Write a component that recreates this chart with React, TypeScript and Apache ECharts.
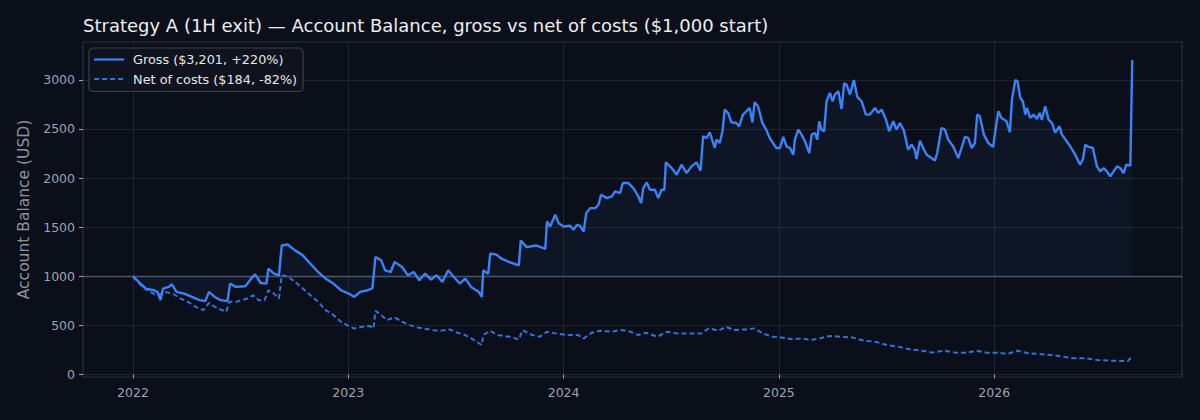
import { useEffect, useRef } from 'react'
import * as echarts from 'echarts'

const START_BALANCE = 1000

// x = decimal year, y = balance in USD
const grossPoints: [number, number][] = [
  [2022.0, 1000], [2022.043, 909], [2022.06, 875], [2022.096, 858], [2022.114, 841],
  [2022.128, 757], [2022.14, 875], [2022.167, 892], [2022.181, 919], [2022.202, 841],
  [2022.238, 824], [2022.274, 790], [2022.309, 757], [2022.336, 747], [2022.353, 841],
  [2022.38, 790], [2022.407, 757], [2022.439, 747], [2022.451, 926], [2022.478, 892],
  [2022.522, 899], [2022.549, 976], [2022.567, 1020], [2022.593, 932], [2022.62, 926],
  [2022.629, 1078], [2022.655, 1027], [2022.678, 1010], [2022.691, 1314], [2022.718, 1324],
  [2022.753, 1264], [2022.789, 1213], [2022.824, 1128], [2022.86, 1044], [2022.895, 976],
  [2022.931, 926], [2022.966, 858], [2023.002, 824], [2023.028, 790], [2023.055, 841],
  [2023.091, 858], [2023.112, 880], [2023.126, 1196], [2023.153, 1162], [2023.171, 1061],
  [2023.197, 1044], [2023.215, 1145], [2023.25, 1095], [2023.277, 1010], [2023.304, 1044],
  [2023.33, 959], [2023.357, 1027], [2023.384, 966], [2023.41, 1010], [2023.437, 943],
  [2023.464, 1061], [2023.49, 993], [2023.517, 926], [2023.544, 976], [2023.57, 892],
  [2023.606, 841], [2023.62, 790], [2023.627, 1061], [2023.65, 1027], [2023.659, 1230],
  [2023.686, 1223], [2023.712, 1179], [2023.748, 1145], [2023.792, 1111], [2023.801, 1365],
  [2023.828, 1297], [2023.872, 1314], [2023.915, 1280], [2023.923, 1558], [2023.938, 1507],
  [2023.961, 1626], [2023.977, 1541], [2024.0, 1507], [2024.031, 1514], [2024.046, 1473],
  [2024.062, 1524], [2024.077, 1514], [2024.093, 1456], [2024.105, 1643], [2024.123, 1694],
  [2024.147, 1694], [2024.162, 1728], [2024.174, 1830], [2024.201, 1796], [2024.224, 1813],
  [2024.239, 1864], [2024.262, 1847], [2024.275, 1949], [2024.301, 1949], [2024.324, 1898],
  [2024.347, 1813], [2024.36, 1745], [2024.37, 1898], [2024.386, 1956], [2024.401, 1881],
  [2024.424, 1881], [2024.44, 1796], [2024.455, 1881], [2024.468, 1881], [2024.475, 2160],
  [2024.502, 2102], [2024.525, 2034], [2024.548, 2136], [2024.571, 2051], [2024.594, 2119],
  [2024.617, 2160], [2024.636, 2075], [2024.648, 2425], [2024.664, 2408], [2024.679, 2466],
  [2024.702, 2306], [2024.71, 2391], [2024.725, 2357], [2024.738, 2476], [2024.748, 2697],
  [2024.764, 2663], [2024.779, 2568], [2024.802, 2561], [2024.815, 2527], [2024.833, 2646],
  [2024.849, 2680], [2024.864, 2714], [2024.877, 2568], [2024.887, 2772], [2024.903, 2731],
  [2024.923, 2561], [2024.941, 2493], [2024.957, 2408], [2024.988, 2306], [2025.005, 2306],
  [2025.02, 2419], [2025.036, 2320], [2025.051, 2306], [2025.067, 2238], [2025.074, 2391],
  [2025.09, 2493], [2025.105, 2442], [2025.121, 2374], [2025.141, 2255], [2025.152, 2442],
  [2025.167, 2459], [2025.178, 2391], [2025.187, 2578], [2025.198, 2493], [2025.21, 2476],
  [2025.221, 2782], [2025.237, 2867], [2025.249, 2782], [2025.26, 2850], [2025.276, 2884],
  [2025.291, 2704], [2025.303, 2963], [2025.314, 2952], [2025.33, 2850], [2025.348, 2997],
  [2025.364, 2827], [2025.384, 2782], [2025.404, 2646], [2025.422, 2646], [2025.446, 2714],
  [2025.461, 2663], [2025.477, 2697], [2025.497, 2595], [2025.512, 2476], [2025.531, 2578],
  [2025.546, 2493], [2025.562, 2561], [2025.58, 2486], [2025.593, 2357], [2025.6, 2289],
  [2025.616, 2340], [2025.631, 2289], [2025.639, 2194], [2025.655, 2381], [2025.67, 2306],
  [2025.686, 2238], [2025.709, 2204], [2025.724, 2177], [2025.735, 2255], [2025.755, 2510],
  [2025.771, 2493], [2025.786, 2391], [2025.809, 2323], [2025.833, 2204], [2025.848, 2306],
  [2025.864, 2419], [2025.879, 2408], [2025.895, 2306], [2025.91, 2357], [2025.921, 2646],
  [2025.933, 2629], [2025.952, 2442], [2025.972, 2357], [2025.995, 2317], [2026.008, 2527],
  [2026.019, 2680], [2026.034, 2612], [2026.057, 2578], [2026.073, 2466], [2026.082, 2799],
  [2026.098, 2997], [2026.108, 2986], [2026.121, 2816], [2026.133, 2782], [2026.144, 2646],
  [2026.152, 2714], [2026.167, 2612], [2026.183, 2646], [2026.198, 2602], [2026.211, 2663],
  [2026.221, 2595], [2026.237, 2731], [2026.252, 2595], [2026.268, 2561], [2026.283, 2463],
  [2026.303, 2527], [2026.314, 2442], [2026.33, 2395], [2026.353, 2323], [2026.376, 2238],
  [2026.399, 2136], [2026.412, 2194], [2026.423, 2340], [2026.438, 2317], [2026.458, 2306],
  [2026.477, 2119], [2026.492, 2068], [2026.508, 2102], [2026.523, 2068], [2026.539, 2017],
  [2026.554, 2068], [2026.57, 2119], [2026.585, 2102], [2026.601, 2051], [2026.613, 2136],
  [2026.632, 2126], [2026.641, 3201],
]

const netPoints: [number, number][] = [
  [2022.0, 1000], [2022.043, 892], [2022.078, 841], [2022.114, 807], [2022.149, 841],
  [2022.185, 824], [2022.22, 774], [2022.256, 740], [2022.291, 689], [2022.327, 655],
  [2022.353, 730], [2022.38, 689], [2022.407, 662], [2022.433, 638], [2022.448, 740],
  [2022.478, 740], [2022.504, 757], [2022.531, 774], [2022.558, 807], [2022.584, 757],
  [2022.611, 757], [2022.629, 858], [2022.655, 824], [2022.678, 774], [2022.691, 1010],
  [2022.718, 1000], [2022.753, 943], [2022.789, 875], [2022.824, 807], [2022.86, 740],
  [2022.895, 655], [2022.931, 605], [2022.966, 537], [2023.002, 493], [2023.028, 469],
  [2023.064, 486], [2023.099, 493], [2023.117, 469], [2023.126, 648], [2023.153, 605],
  [2023.179, 554], [2023.215, 581], [2023.25, 537], [2023.286, 503], [2023.322, 479],
  [2023.348, 469], [2023.393, 452], [2023.428, 446], [2023.472, 459], [2023.508, 425],
  [2023.544, 402], [2023.579, 358], [2023.62, 300], [2023.627, 402], [2023.659, 446],
  [2023.694, 402], [2023.748, 385], [2023.792, 358], [2023.81, 452], [2023.854, 402],
  [2023.89, 385], [2023.922, 435], [2023.961, 419], [2024.014, 402], [2024.067, 402],
  [2024.094, 368], [2024.13, 425], [2024.169, 446], [2024.222, 436], [2024.266, 453],
  [2024.311, 436], [2024.346, 402], [2024.382, 426], [2024.435, 385], [2024.48, 436],
  [2024.524, 419], [2024.577, 419], [2024.639, 419], [2024.675, 470], [2024.719, 446],
  [2024.755, 486], [2024.79, 453], [2024.844, 459], [2024.888, 470], [2024.924, 419],
  [2024.968, 385], [2025.012, 378], [2025.066, 358], [2025.11, 368], [2025.146, 351],
  [2025.19, 368], [2025.234, 392], [2025.288, 385], [2025.341, 378], [2025.394, 345],
  [2025.448, 334], [2025.501, 300], [2025.554, 284], [2025.607, 257], [2025.661, 243],
  [2025.714, 223], [2025.767, 243], [2025.821, 223], [2025.874, 223], [2025.918, 243],
  [2025.963, 223], [2026.016, 223], [2026.06, 209], [2026.105, 243], [2026.158, 216],
  [2026.211, 209], [2026.265, 199], [2026.318, 182], [2026.371, 165], [2026.424, 165],
  [2026.478, 148], [2026.531, 142], [2026.584, 138], [2026.62, 138], [2026.641, 184],
]

const yearTicks = [2022, 2023, 2024, 2025, 2026]
const balanceTicks = [0, 500, 1000, 1500, 2000, 2500, 3000]

const FONT = 'DejaVu Sans'
const BG = '#0b0f19'

function legendLabel(name: string, points: [number, number][]) {
  const last = points[points.length - 1][1]
  const pct = Math.round(((last - START_BALANCE) / START_BALANCE) * 100)
  return `${name} ($${last.toLocaleString('en-US')}, ${pct >= 0 ? '+' : ''}${pct}%)`
}

export default function App() {
  const chartRef = useRef<HTMLDivElement>(null)

  useEffect(() => {
    if (!chartRef.current) return
    document.body.style.margin = '0'
    document.body.style.background = BG
    const chart = echarts.init(chartRef.current, null, { renderer: 'svg' })

    const grossName = legendLabel('Gross', grossPoints)
    const netName = legendLabel('Net of costs', netPoints)

    const option: echarts.EChartsOption = {
      animation: false,
      backgroundColor: BG,
      textStyle: { fontFamily: FONT },
      title: {
        text: 'Strategy A (1H exit) — Account Balance, gross vs net of costs ($1,000 start)',
        left: 78,
        top: 11,
        textStyle: { color: '#eceef2', fontSize: 18, fontWeight: 'normal', fontFamily: FONT },
      },
      legend: {
        left: 89,
        top: 48,
        orient: 'vertical',
        itemWidth: 30,
        itemHeight: 14,
        itemGap: 6.5,
        padding: [5, 6, 6, 4],
        backgroundColor: '#0e131d',
        borderColor: '#3a404c',
        borderWidth: 1.2,
        borderRadius: 4,
        itemStyle: { opacity: 0 },
        lineStyle: { width: 2.2 },
        textStyle: { color: '#e5e7eb', fontSize: 12.8, fontFamily: FONT, padding: [0, 0, 0, 4] },
        data: [grossName, netName],
      },
      grid: {
        left: 83,
        right: 18,
        top: 42,
        bottom: 43,
        show: true,
        borderColor: '#2a303c',
        borderWidth: 1.2,
        backgroundColor: 'transparent',
      },
      xAxis: {
        type: 'value',
        min: 2021.768,
        max: 2026.872,
        axisLine: { show: false },
        axisTick: {
          show: true,
          length: 4,
          lineStyle: { color: '#9ca3af', width: 1 },
          customValues: yearTicks,
        },
        axisLabel: {
          color: '#9ca3af',
          fontSize: 12.5,
          fontFamily: FONT,
          margin: 9,
          customValues: yearTicks,
          formatter: (v: number) => String(Math.round(v)),
        },
        splitLine: { show: true, lineStyle: { color: '#1f2531', width: 1 } },
      },
      yAxis: {
        type: 'value',
        min: -25,
        max: 3385,
        name: 'Account Balance (USD)',
        nameLocation: 'middle',
        nameGap: 50,
        nameTextStyle: { color: '#8b93a1', fontSize: 15.5, fontFamily: FONT },
        axisLine: { show: false },
        axisTick: {
          show: true,
          length: 4,
          lineStyle: { color: '#9ca3af', width: 1 },
          customValues: balanceTicks,
        },
        axisLabel: {
          color: '#9ca3af',
          fontSize: 12.5,
          fontFamily: FONT,
          margin: 8,
          customValues: balanceTicks,
          formatter: (v: number) => String(Math.round(v)),
        },
        splitLine: { show: true, lineStyle: { color: '#1f2531', width: 1 } },
      },
      series: [
        {
          name: grossName,
          type: 'line',
          data: grossPoints,
          symbol: 'none',
          z: 3,
          lineStyle: { color: '#3b82f6', width: 2.4 },
          itemStyle: { color: '#3b82f6' },
          areaStyle: { origin: START_BALANCE, color: 'rgba(59,130,246,0.09)' },
          markLine: {
            silent: true,
            symbol: 'none',
            label: { show: false },
            lineStyle: { color: '#4b5563', width: 1.4, type: 'solid' },
            data: [{ yAxis: START_BALANCE }],
            z: 1,
          },
        },
        {
          name: netName,
          type: 'line',
          data: netPoints,
          symbol: 'none',
          z: 2,
          lineStyle: { color: '#3173dc', width: 2, type: [5, 3] },
          itemStyle: { color: '#3173dc' },
        },
      ],
    }

    chart.setOption(option)
    return () => chart.dispose()
  }, [])

  return (
    <div
      ref={chartRef}
      style={{ position: 'fixed', left: 0, top: 0, width: 1200, height: 420, background: BG }}
    />
  )
}
